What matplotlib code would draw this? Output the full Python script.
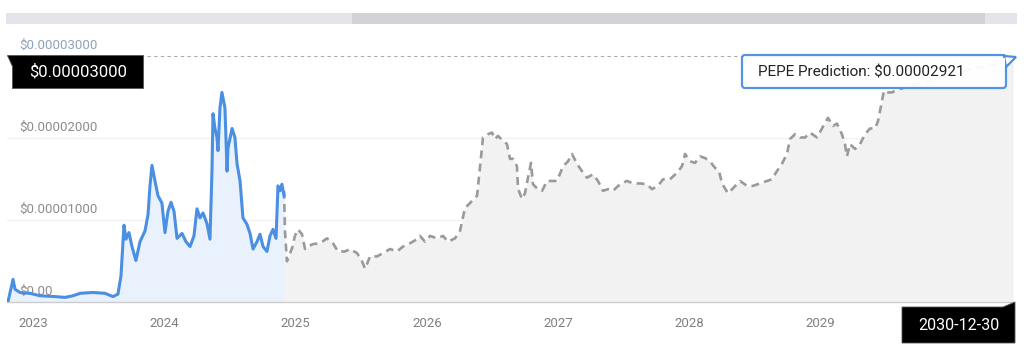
import matplotlib.pyplot as plt
import matplotlib.patches as mpatches

plt.rcParams['font.family'] = ['Roboto', 'DejaVu Sans']

# price in units of 1e-5 USD, x in fractional years
hist_year = [2022.810, 2022.848, 2022.863, 2022.901, 2022.977, 2023.053, 2023.168, 2023.244,
             2023.305, 2023.358, 2023.457, 2023.548, 2023.609, 2023.647, 2023.670, 2023.693,
             2023.708, 2023.731, 2023.754, 2023.784, 2023.815, 2023.853, 2023.876, 2023.891,
             2023.906, 2023.929, 2023.952, 2023.982, 2024.005, 2024.028, 2024.051, 2024.074,
             2024.097, 2024.135, 2024.165, 2024.196, 2024.226, 2024.249, 2024.272, 2024.295,
             2024.325, 2024.348, 2024.363, 2024.371, 2024.386, 2024.401, 2024.409, 2024.424,
             2024.439, 2024.462, 2024.478, 2024.485, 2024.516, 2024.538, 2024.554, 2024.577,
             2024.599, 2024.630, 2024.653, 2024.676, 2024.706, 2024.729, 2024.752, 2024.782,
             2024.805, 2024.828, 2024.851, 2024.866, 2024.881, 2024.896, 2024.912]
hist_price = [0.00, 0.27, 0.15, 0.11, 0.10, 0.07, 0.06, 0.05,
              0.07, 0.10, 0.11, 0.10, 0.06, 0.09, 0.31, 0.93,
              0.76, 0.84, 0.67, 0.50, 0.73, 0.86, 1.06, 1.41,
              1.66, 1.47, 1.29, 1.20, 0.84, 1.10, 1.21, 1.10,
              0.77, 0.83, 0.73, 0.67, 0.80, 1.13, 1.02, 1.08,
              0.95, 0.76, 1.59, 2.29, 2.11, 2.00, 1.84, 2.36,
              2.55, 2.36, 1.59, 1.87, 2.11, 2.00, 1.68, 1.47,
              1.02, 0.94, 0.83, 0.64, 0.73, 0.82, 0.67, 0.61,
              0.80, 0.88, 0.77, 1.41, 1.35, 1.43, 1.29]

pred_year = [2024.912, 2024.919, 2024.934, 2024.973, 2024.995, 2025.018, 2025.049, 2025.072,
             2025.094, 2025.132, 2025.186, 2025.239, 2025.285, 2025.323, 2025.376, 2025.414,
             2025.468, 2025.506, 2025.529, 2025.567, 2025.620, 2025.666, 2025.719, 2025.772,
             2025.818, 2025.871, 2025.925, 2025.947, 2025.986, 2026.024, 2026.077, 2026.123,
             2026.161, 2026.214, 2026.252, 2026.290, 2026.328, 2026.382, 2026.404, 2026.427,
             2026.465, 2026.496, 2026.519, 2026.541, 2026.580, 2026.610, 2026.633, 2026.656,
             2026.686, 2026.694, 2026.724, 2026.747, 2026.770, 2026.793, 2026.808, 2026.839,
             2026.877, 2026.915, 2026.953, 2026.991, 2027.037, 2027.075, 2027.105, 2027.143,
             2027.181, 2027.219, 2027.265, 2027.303, 2027.341, 2027.379, 2027.417, 2027.471,
             2027.524, 2027.570, 2027.623, 2027.676, 2027.714, 2027.760, 2027.798, 2027.851,
             2027.905, 2027.943, 2027.966, 2028.004, 2028.042, 2028.080, 2028.118, 2028.156,
             2028.194, 2028.225, 2028.248, 2028.270, 2028.293, 2028.331, 2028.385, 2028.438,
             2028.484, 2028.537, 2028.590, 2028.628, 2028.666, 2028.704, 2028.743, 2028.765,
             2028.804, 2028.842, 2028.880, 2028.918, 2028.971, 2029.009, 2029.055, 2029.093,
             2029.123, 2029.161, 2029.184, 2029.199, 2029.222, 2029.261, 2029.299, 2029.337,
             2029.375, 2029.413, 2029.436, 2029.466, 2029.481, 2029.512, 2029.542, 2029.580,
             2029.679, 2029.832, 2029.984, 2030.136, 2030.288, 2030.464]
pred_price = [1.35, 0.86, 0.49, 0.65, 0.80, 0.88, 0.82, 0.64,
              0.67, 0.70, 0.71, 0.77, 0.71, 0.61, 0.61, 0.64,
              0.59, 0.49, 0.40, 0.55, 0.55, 0.59, 0.64, 0.61,
              0.67, 0.71, 0.76, 0.80, 0.73, 0.80, 0.77, 0.80,
              0.73, 0.77, 0.86, 1.14, 1.20, 1.29, 1.63, 2.00,
              2.04, 2.06, 1.98, 2.02, 1.96, 1.92, 1.74, 1.74,
              1.65, 1.38, 1.25, 1.32, 1.51, 1.69, 1.43, 1.38,
              1.35, 1.47, 1.47, 1.47, 1.65, 1.71, 1.80, 1.68,
              1.59, 1.51, 1.55, 1.47, 1.35, 1.37, 1.35, 1.43,
              1.47, 1.44, 1.44, 1.43, 1.37, 1.41, 1.49, 1.49,
              1.57, 1.65, 1.80, 1.71, 1.69, 1.77, 1.75, 1.71,
              1.63, 1.59, 1.44, 1.38, 1.32, 1.38, 1.47, 1.41,
              1.41, 1.44, 1.47, 1.49, 1.59, 1.68, 1.80, 1.98,
              2.04, 2.00, 2.00, 2.06, 2.00, 2.11, 2.24, 2.14,
              2.17, 2.04, 1.92, 1.77, 1.92, 1.86, 1.92, 2.04,
              2.11, 2.11, 2.20, 2.45, 2.57, 2.55, 2.55, 2.58,
              2.63, 2.69, 2.77, 2.83, 2.88, 2.921]

year_ticks = [2023, 2024, 2025, 2026, 2027, 2028, 2029]
price_ticks = [0, 1, 2, 3]
price_labels = ['$0.00', '$0.00001000', '$0.00002000', '$0.00003000']
crosshair_price = '$0.00003000'
crosshair_date = '2030-12-30'
tooltip_text = 'PEPE Prediction: $0.00002921'

W, H = 1024, 352
fig = plt.figure(figsize=(W / 100, H / 100), dpi=100)
fig.patch.set_facecolor('white')

x0, x1, yb, yt = 7, 1013, 301.5, 55.5
ax = fig.add_axes([x0 / W, 1 - yb / H, (x1 - x0) / W, (yb - yt) / H])
ax.set_xlim(2022.802, 2030.464)
ax.set_ylim(0, 3)
for s in ['top', 'right', 'left']:
    ax.spines[s].set_visible(False)
ax.spines['bottom'].set_color('#cccccc')
ax.spines['bottom'].set_linewidth(1)

for p in price_ticks[1:3]:
    ax.axhline(p, color='#f1f1f1', lw=1, zorder=0)

ax.fill_between(pred_year, pred_price, 0, color='#f2f2f2', lw=0, zorder=1)
ax.fill_between(hist_year, hist_price, 0, color='#e9f1fc', lw=0, zorder=1)

for p, lab in zip(price_ticks, price_labels):
    col = '#8fa3bb' if p == 3 else '#8c8c8c'
    ax.annotate(lab, xy=(0.0125, p), xycoords=ax.get_yaxis_transform(),
                xytext=(0, 7.5), textcoords='offset points', ha='left', va='center',
                fontsize=9.5, color=col, zorder=2)

ax.plot(pred_year, pred_price, color='#9a9a9a', lw=1.9, ls=(0, (3, 2)), zorder=3)
ax.plot(hist_year, hist_price, color='#4a8fe2', lw=2.2, zorder=4)

ax.axhline(3, color='#aaaaaa', lw=0.8, ls=(0, (3, 3)), zorder=2, clip_on=False)
ax.axvline(pred_year[-1], color='#aaaaaa', lw=0.8, ls=(0, (2, 2)), zorder=2)

ax.set_xticks(year_ticks)
ax.set_xticklabels([str(y) for y in year_ticks])
ax.tick_params(axis='x', length=0, pad=11, labelsize=9.5, labelcolor='#808080')
ax.set_yticks([])

# overlay in pixel coordinates for scrollbar, flags and tooltip
ov = fig.add_axes([0, 0, 1, 1], zorder=5)
ov.set_xlim(0, W)
ov.set_ylim(H, 0)
ov.axis('off')
ov.patch.set_alpha(0)

ov.add_patch(mpatches.Rectangle((6, 13), 1011, 11, color='#e4e4ea', lw=0))
ov.add_patch(mpatches.Rectangle((352, 13), 633, 11, color='#d1d3d9', lw=0))

ov.add_patch(mpatches.Polygon([(7, 55), (143, 55), (143, 88), (12, 88), (12, 66)],
                              closed=True, fc='black', ec='#555555', lw=0.6))
ov.text(78, 72, crosshair_price, color='white', fontsize=12, ha='center', va='center')

ov.add_patch(mpatches.Polygon([(902, 307), (1003, 307), (1015, 302), (1015, 343), (902, 343)],
                              closed=True, fc='black', ec='#555555', lw=0.6))
ov.text(959, 325, crosshair_date, color='white', fontsize=11.5, ha='center', va='center')

ov.add_patch(mpatches.FancyBboxPatch((742, 55), 264, 33, boxstyle='round,pad=0,rounding_size=3',
                                     fc='white', ec='#4a8fe2', lw=1.6, alpha=0.95))
ov.add_patch(mpatches.Polygon([(1004, 56), (1016, 57), (1006, 67)], closed=True,
                              fc='white', ec='#4a8fe2', lw=1.6))
ov.add_patch(mpatches.Rectangle((1000, 57.5), 5, 9, color='white', lw=0))
ov.text(758, 72, tooltip_text, color='#222222', fontsize=11, ha='left', va='center')

fig.savefig('out.png', dpi=100)
